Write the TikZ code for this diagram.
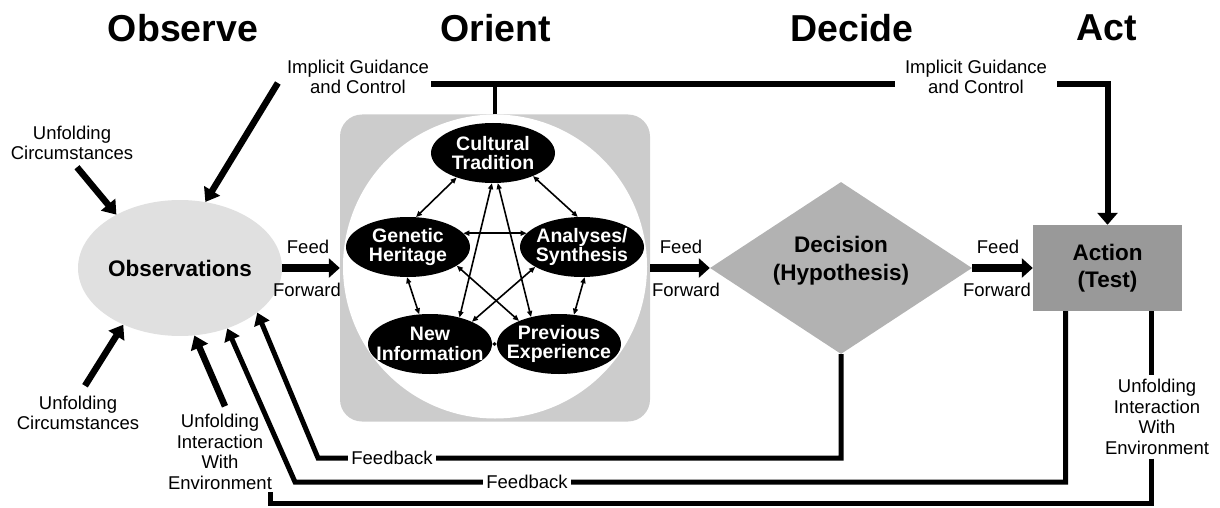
\documentclass[tikz,border=0pt]{standalone}
\usepackage{fontspec}
\setmainfont{Liberation Sans}
\usepackage{xcolor}
\usepackage{tikz}
\usetikzlibrary{shapes,shapes.geometric,arrows.meta,calc,positioning}

\begin{document}
\begin{tikzpicture}[x=1pt,y=-1pt, node distance=2cm,
		big/.style = {line width=6.5pt, -{Triangle[length=13pt,width=18pt]}},
		feed/.style = {line width=8pt, -{Triangle[length=11pt,width=19pt]}},
		fb/.style = {line width=5pt, -{Triangle[length=12pt,width=16pt]}},
		fbline/.style = {line width=5pt},
		guide/.style = {line width=6pt},
		inner/.style = {line width=1.6pt, {Triangle[length=6pt,width=5pt]}-{Triangle[length=6pt,width=5pt]}}]
		\tikzset{txt/.style={inner sep=2pt,align=center,font=\fontsize{18.5}{20.5}\selectfont}}
		\tikzset{title/.style={font=\fontsize{37.5}{40}\selectfont\bfseries}}
		\tikzset{bubble/.style={ellipse, fill=black, text=white, inner xsep=-16pt, inner ysep=-3pt, minimum width=124pt, minimum height=60pt, align=center, font=\fontsize{19.5}{19.5}\selectfont\bfseries}}

		\useasboundingbox (0,0) rectangle (1220,508);

		% Titles
		\node[title] (tobserve) at (183,28) {Observe};
		\node[title] (torient) at (496,28) {Orient};
		\node[title] (tdecide) at (852,28) {Decide};
		\node[title] (tact) at (1107,28) {Act};

		% Observe
		\node[ellipse, fill=black!12, minimum width=204pt, minimum height=136pt, inner sep=0pt, font=\fontsize{22.5}{28}\selectfont\bfseries] (obs) at (180,268) {Observations};

		% Orient
		\node[rectangle, right of=obs, node distance=315pt, rounded corners=22pt, fill=black!20, minimum width=310pt, minimum height=307pt] (orient) {};
		\node[circle, fill=white, minimum size=304pt, inner sep=0pt] (disc) at ($(orient)+(0,-1.5)$) {};

		\node[bubble] (cultural) at (493,153) {Cultural\\Tradition};
		\node[bubble] (genetic) at (408,247) {Genetic\\Heritage};
		\node[bubble] (analyses) at (582,247) {Analyses/\\Synthesis};
		\node[bubble] (newinfo) at (430,344) {New\\Information};
		\node[bubble] (previous) at (559,344) {Previous\\Experience};

		% Decide
		\node[diamond, right of=orient, node distance=346pt, aspect=1.52, fill=black!30, minimum width=262pt, minimum height=172pt, inner sep=0pt, align=center, font=\fontsize{22.5}{28}\selectfont\bfseries] (decision) {Decision\\(Hypothesis)\\[-8pt]};

		% Act
		\node[rectangle, right of=decision, node distance=266.5pt, fill=black!40, minimum width=149pt, minimum height=86pt, inner sep=0pt, align=center, font=\fontsize{22.5}{27}\selectfont\bfseries] (action) {Action\\(Test)};

		% Labels
		\node[txt] (uctop) at (72,143) {Unfolding\\Circumstances};
		\node[txt] (ucbot) at (78,413) {Unfolding\\Circumstances};
		\node[txt] (igleft) at (358,77) {Implicit Guidance\\and Control};
		\node[txt, inner xsep=10pt] (igright) at (976,77) {Implicit Guidance\\and Control};
		\node[txt] (uileft) at (220,452) {Unfolding\\Interaction\\With\\Environment};
		\node[txt, inner ysep=4pt] (uiright) at (1157,417) {Unfolding\\Interaction\\With\\Environment};

		\node[txt] (feed1) at (308,247) {Feed};
		\node[txt] (fwd1) at (307,290) {Forward};
		\node[txt] (feed2) at (681,247) {Feed};
		\node[txt] (fwd2) at (686,290) {Forward};
		\node[txt] (feed3) at (998,247) {Feed};
		\node[txt] (fwd3) at (997,290) {Forward};

		% Arrows inside orient
		\draw[inner] (cultural.214) -- (genetic.75);
		\draw[inner] (cultural.330) -- (analyses.98);
		\draw[inner] (genetic.14) -- (analyses.166);
		\draw[inner] (genetic.268) -- (newinfo.110);
		\draw[inner] (analyses.275) -- (previous.63);
		\draw[inner] (cultural.268) -- (newinfo.42);
		\draw[inner] (cultural.279) -- (previous.136);
		\draw[inner] (genetic.339) -- (previous.150);
		\draw[inner] (analyses.203) -- (newinfo.28);
		\draw[line width=1.6pt, {Triangle[length=2.5pt,width=4pt]}-{Triangle[length=2.5pt,width=4pt]}] (newinfo.east) -- (previous.west);

		% Feed forward
		\draw[feed] (obs.east) -- (orient.west);
		\draw[feed] (orient.east) -- (decision.west);
		\draw[feed] (decision.east) -- (action.west);

		% Implicit guidance and control
		\coordinate (topy) at (0,84);
		\draw[guide] (igleft.east |- topy) -- (igright.west |- topy);
		\draw[line width=4pt] (orient.north) -- (orient.north |- topy);
		\draw[guide, -{Triangle[length=12pt,width=20pt]}] (igright.east |- topy) -| (action.north);
		\draw[big] ([xshift=-7pt,yshift=-6pt]igleft.west) -- (obs.69);

		% Unfolding circumstances
		\draw[big] ([xshift=5pt,yshift=-5pt]uctop.south) -- (obs.140);
		\draw[big] ([xshift=7pt,yshift=8pt]ucbot.north) -- (obs.-135);
		\draw[big] ([xshift=5pt,yshift=6pt]uileft.north) -- (obs.-78);

		% Feedback
		\coordinate (fbone) at (318,458);
		\coordinate (fbtwo) at (295,482);
		\coordinate (envcorner) at (270,503);
		\coordinate (fbxline) at ([xshift=-42pt]action.south);
		\coordinate (uixline) at ([xshift=44pt]action.south);

		\draw[fb] (decision.south) |- (fbone) -- (obs.-30);
		\draw[fb] (fbxline) |- (fbtwo) -- (obs.-52);
		\draw[fbline] (uixline) -- (uixline |- uiright.north);
		\draw[fbline] (uixline |- uiright.south) |- (envcorner) -- (envcorner |- uileft.south);

		\node[txt, fill=white, inner xsep=3pt] (fblabel1) at (392,458) {Feedback};
		\node[txt, fill=white, inner xsep=3pt] (fblabel2) at (527,482) {Feedback};

\end{tikzpicture}
\end{document}
